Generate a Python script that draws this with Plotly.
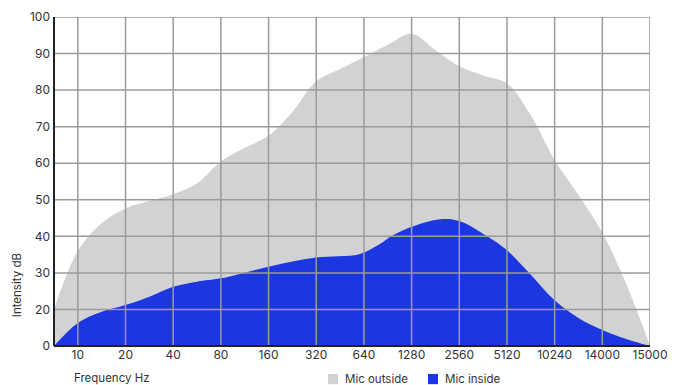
import plotly.graph_objects as go

# ---- data ----
freq_labels = ["10", "20", "40", "80", "160", "320", "640", "1280", "2560", "5120", "10240", "14000", "15000"]
y_tick_values = [0, 20, 30, 40, 50, 60, 70, 80, 90, 100]
series_names = ["Mic outside", "Mic inside"]

# sample positions along the frequency category axis (index of category; -0.5 = left edge)
outside_x = [-0.5, 0, 0.5, 1, 1.5, 2, 2.5, 3, 3.5, 4, 4.5, 5, 5.5, 6, 6.5, 7, 7.5, 8, 8.5, 9, 9.5, 10, 10.5, 11, 11.5, 12]
outside_db = [20, 36, 43.6, 47.6, 49.7, 51.5, 54.5, 60.5, 64.2, 67.5, 74, 82.4, 85.8, 89, 92.4, 95.4, 90.9, 86.5, 84, 81.8, 73.1, 60.8, 51.3, 41, 27, 0]

inside_x = [-0.5, 0, 0.5, 1, 1.5, 2, 2.5, 3, 4, 5, 5.9, 6.3, 6.6, 7, 7.6, 8, 8.6, 9, 9.5, 10, 10.5, 11, 11.5, 12]
inside_db = [0, 12.6, 18.8, 21.2, 23.5, 26.2, 27.6, 28.5, 31.7, 34.2, 35.1, 37.6, 40.2, 42.6, 44.7, 44.2, 39.9, 36.2, 29.5, 22.5, 15.3, 8.7, 3.8, 0]

GRAY = "#d2d2d4"
BLUE = "#1c36e0"
GRID = "#9a9a9a"
TEXT = "#333333"
FONT = "Inter"


def ypos(v):
    # the value axis is piecewise: 0-20 takes one step, then 10 dB per step
    return v / 20.0 if v <= 20 else 1 + (v - 20) / 10.0


fig = go.Figure()
fig.add_trace(go.Scatter(x=outside_x, y=[ypos(v) for v in outside_db], mode="none",
                         fill="tozeroy", fillcolor=GRAY, line=dict(shape="spline", smoothing=1.0),
                         name=series_names[0], showlegend=False, hoverinfo="skip"))
fig.add_trace(go.Scatter(x=inside_x, y=[ypos(v) for v in inside_db], mode="none",
                         fill="tozeroy", fillcolor=BLUE, line=dict(shape="spline", smoothing=1.0),
                         name=series_names[1], showlegend=False, hoverinfo="skip"))

x_ticks = list(range(len(freq_labels)))
y_ticks = [ypos(v) for v in y_tick_values]

# grid lines drawn above the filled areas
shapes = []
for xv in x_ticks:
    shapes.append(dict(type="line", xref="x", yref="paper", x0=xv, x1=xv, y0=0, y1=1,
                       line=dict(color=GRID, width=1.5), layer="above"))
for yv in y_ticks[1:]:
    shapes.append(dict(type="line", xref="paper", yref="y", x0=0, x1=1, y0=yv, y1=yv,
                       line=dict(color=GRID, width=1.5), layer="above"))
shapes.append(dict(type="line", xref="paper", yref="paper", x0=0, x1=0, y0=0, y1=1,
                   line=dict(color="#222222", width=2), layer="above"))
shapes.append(dict(type="line", xref="paper", yref="paper", x0=0, x1=1, y0=0, y1=0,
                   line=dict(color="#222222", width=2), layer="above"))

# legend (square swatch + label), drawn below the plot
annotations = []
legend_x = [0.4597, 0.6275]
for name, color, lx in zip(series_names, [GRAY, BLUE], legend_x):
    shapes.append(dict(type="rect", xref="paper", yref="paper", x0=lx, x1=lx + 0.0168,
                       y0=-0.085, y1=-0.116, fillcolor=color, line=dict(width=0)))
    annotations.append(dict(text=name, xref="paper", yref="paper", x=lx + 0.025, y=-0.1,
                            xanchor="left", yanchor="middle", showarrow=False,
                            font=dict(size=11.5, color=TEXT, family=FONT)))

annotations += [
    dict(text="Frequency Hz", xref="paper", yref="paper", x=0.03, y=-0.097,
         xanchor="left", yanchor="middle", showarrow=False,
         font=dict(size=11.5, color=TEXT, family=FONT)),
    dict(text="Intensity dB", xref="paper", yref="paper", x=-0.062, y=0.185,
         xanchor="center", yanchor="middle", textangle=-90, showarrow=False,
         font=dict(size=11.5, color=TEXT, family=FONT)),
]

fig.update_layout(
    width=674, height=377,
    margin=dict(l=46, r=32, t=9, b=39, autoexpand=False),
    paper_bgcolor="white", plot_bgcolor="white",
    font=dict(family=FONT, size=12, color=TEXT),
    shapes=shapes,
    showlegend=False,
    xaxis=dict(range=[-0.5, 12], tickmode="array", tickvals=x_ticks, ticktext=freq_labels,
               showgrid=False, zeroline=False, showline=False, ticks="", ticklen=0,
               automargin=False, tickfont=dict(size=12, color=TEXT, family=FONT), fixedrange=True),
    yaxis=dict(range=[0, 9], tickmode="array", tickvals=y_ticks,
               ticktext=[str(v) for v in y_tick_values], ticklabelstandoff=3,
               showgrid=False, zeroline=False, showline=False, ticks="", ticklen=0,
               automargin=False, tickfont=dict(size=12, color=TEXT, family=FONT), fixedrange=True),
    annotations=annotations,
)

fig.write_html("out.html")
